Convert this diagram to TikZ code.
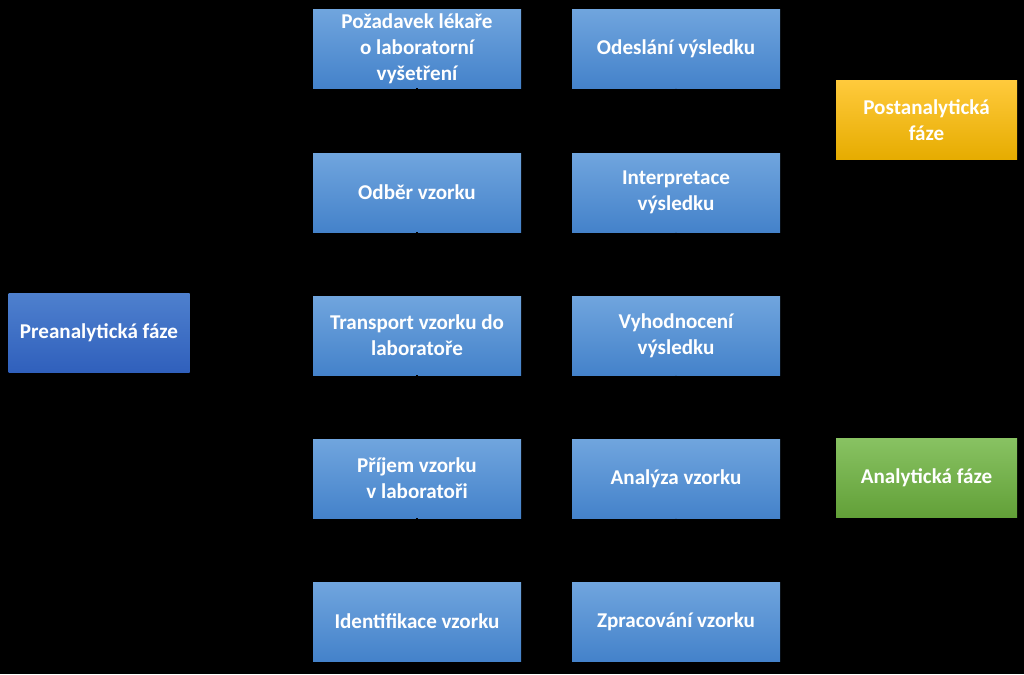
\documentclass[tikz,border=0pt]{standalone}
\usepackage{fontspec}
\setmainfont{Carlito}
\usetikzlibrary{arrows.meta,shadings}
\definecolor{bluetop}{RGB}{112,165,222}
\definecolor{bluebot}{RGB}{68,130,202}
\definecolor{dbluetop}{RGB}{78,128,206}
\definecolor{dbluebot}{RGB}{48,96,188}
\definecolor{goldtop}{RGB}{255,202,60}
\definecolor{goldbot}{RGB}{230,172,0}
\definecolor{greentop}{RGB}{136,194,98}
\definecolor{greenbot}{RGB}{98,160,56}
\tikzset{
  box/.style={rectangle, minimum width=208*0.02cm, minimum height=79*0.02cm,
    inner sep=2pt, align=center, text=white,
    font=\fontsize{12}{14.8}\selectfont\bfseries},
  stepbox/.style={box, top color=bluetop, bottom color=bluebot},
  phasebox/.style={box, minimum width=181*0.02cm},
  conn/.style={draw=black, line width=1pt, -{Stealth[length=5pt]}}
}
\begin{document}
\begin{tikzpicture}[x=0.02cm,y=-0.02cm]
\fill[black] (0,0) rectangle (1024,674);
\useasboundingbox (0,0) rectangle (1024,674);
% left column
\node[stepbox] (a1) at (417,48.5) {Požadavek lékaře\\o laboratorní\\vyšetření};
\node[stepbox] (a2) at (417,192.5) {Odběr vzorku};
\node[stepbox] (a3) at (417,335.5) {Transport vzorku do\\laboratoře};
\node[stepbox] (a4) at (417,478.5) {Příjem vzorku\\v laboratoři};
\node[stepbox] (a5) at (417,621.5) {Identifikace vzorku};
% right column
\node[stepbox] (b1) at (676,48.5) {Odeslání výsledku};
\node[stepbox] (b2) at (676,192.5) {Interpretace\\výsledku};
\node[stepbox] (b3) at (676,335.5) {Vyhodnocení\\výsledku};
\node[stepbox] (b4) at (676,478.5) {Analýza vzorku};
\node[stepbox] (b5) at (676,621.5) {Zpracování vzorku};
% phases
\node[phasebox, top color=dbluetop, bottom color=dbluebot] (pre) at (99,332.5) {Preanalytická fáze};
\node[phasebox, top color=goldtop, bottom color=goldbot] (post) at (926.5,120) {Postanalytická\\fáze};
\node[phasebox, top color=greentop, bottom color=greenbot] (ana) at (926.5,478) {Analytická fáze};
% connectors (black on black, as in the reference)
\draw[conn] (a1) -- (a2);
\draw[conn] (a2) -- (a3);
\draw[conn] (a3) -- (a4);
\draw[conn] (a4) -- (a5);
\draw[conn] (b5) -- (b4);
\draw[conn] (b4) -- (b3);
\draw[conn] (b3) -- (b2);
\draw[conn] (b2) -- (b1);
\end{tikzpicture}
\end{document}
